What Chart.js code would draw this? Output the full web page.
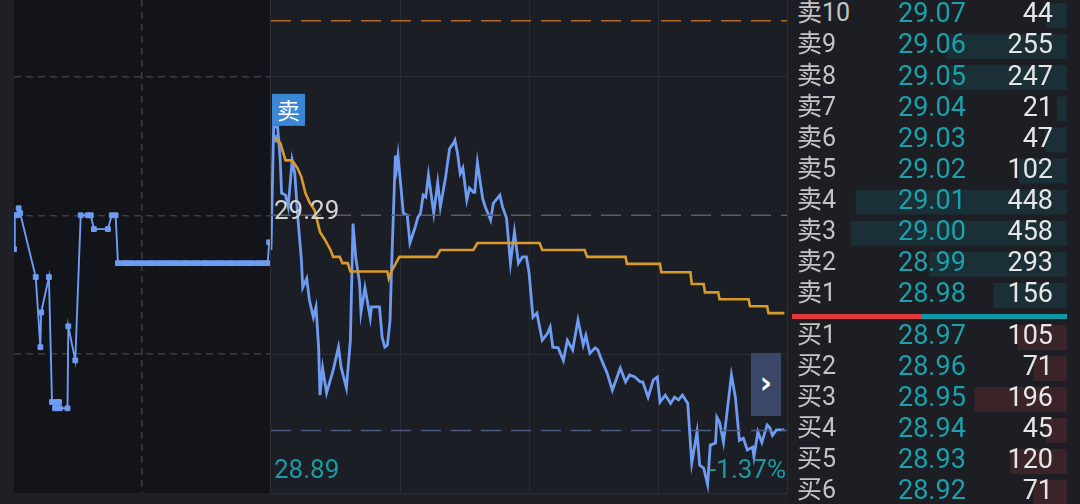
<!DOCTYPE html>
<html><head><meta charset="utf-8">
<script src="https://cdn.jsdelivr.net/npm/chart.js@4/dist/chart.umd.min.js"></script>
<style>
html,body{margin:0;padding:0;background:#1e2025;width:1080px;height:504px;overflow:hidden;position:relative;font-family:Roboto,"Noto Sans CJK SC",sans-serif;}
#pre{position:absolute;left:14px;top:0;width:256px;height:493px;background:#121419;border-right:1px solid #2c2f37;}
#main{position:absolute;left:271px;top:0;width:516px;height:493px;background:#1c1e25;border-right:1px solid #2b2e36;border-bottom:1px solid #2b2e36;}
#book{position:absolute;left:789px;top:0;width:291px;height:504px;background:#1c1e23;}
canvas{display:block;position:absolute;}
.lab{position:absolute;left:797px;height:30px;line-height:30px;font-size:25px;color:#c4c4c4;white-space:nowrap;}
.prc{position:absolute;left:898px;height:30px;line-height:30px;font-size:27px;color:#1aa1ab;white-space:nowrap;}
.qty{position:absolute;right:27px;height:30px;line-height:30px;font-size:27px;color:#e6e6e6;text-align:right;white-space:nowrap;}
#btn{position:absolute;left:751px;top:353px;width:30px;height:63px;background:#3a4767;color:#fff;font:bold 30px "DejaVu Sans",sans-serif;line-height:60px;text-align:center;}
</style></head>
<body>
<div id="pre"><canvas id="cPre" width="256" height="493"></canvas></div>
<div id="main"><canvas id="cMain" width="516" height="493"></canvas></div>
<div id="book"></div>
<canvas id="cAsk" width="216" height="311" style="left:851px;top:0px"></canvas>
<canvas id="cBid" width="216" height="186" style="left:851px;top:322px"></canvas>
<canvas id="cPow" width="275" height="5" style="left:792px;top:314px"></canvas>
<div id="btn">›</div>
<script>
// ---------- data ----------
const prevClose = 29.29;
const lastPrice = 28.98;
const costPrice = 29.57;
const priceMin = 28.89;
const priceMax = 29.60;
const priceGridPre = [29.09, 29.29, 29.49];
const priceGridMain = [29.09, 29.49];
const preGridTimes = [165];
const mainGridTimes = [97.5, 195, 292.5];

// pre-market trades (minutes from pre-market open)
const preTimes = [0,1,4,6,8,28,34,35,45,49,53,55,58,59,69,70,79,86,95,99,103,121,126,131,134,
  141,147,153,160,166,173,179,186,192,199,205,211,218,224,231,237,244,250,257,263,269,276,282,289,295,302,308,315,321,327,329];
const prePrices = [29.241,29.290,29.290,29.300,29.293,29.201,29.100,29.150,29.201,29.021,29.012,29.021,29.021,29.012,29.012,29.130,29.081,29.290,29.290,29.290,29.270,29.270,29.290,29.290,29.221,
  29.221,29.221,29.221,29.221,29.221,29.221,29.221,29.221,29.221,29.221,29.221,29.221,29.221,29.221,29.221,29.221,29.221,29.221,29.221,29.221,29.221,29.221,29.221,29.221,29.221,29.221,29.221,29.221,29.221,29.221,29.251];

// regular session price (minutes from open)
const rtTimes = [0,2,5,7,8,11,13,16,18,20,23,24,27,29,32,34,36,37,39,42,47,51,53,57,60,62,64,67,68,71,75,76,79,82,84,86,88,90,91,94,95,96,
  100,103,105,109,111,113,115,117,119,122,123,126,128,132,134,135,138,139,141,143,145,148,150,153,154,156,160,162,166,168,173,175,178,181,184,187,190,193,195,198,
  201,205,209,211,213,217,221,224,228,232,236,238,241,245,247,250,254,258,264,268,271,275,279,281,285,289,292,294,298,
  302,305,308,311,315,318,322,324,327,330,332,336,337,339,342,348,351,354,357,360,364,365,368,371,375,377,379,382,388];
const rtPrices = [29.240,29.417,29.417,29.369,29.322,29.319,29.302,29.369,29.350,29.293,29.225,29.186,29.199,29.168,29.143,29.158,29.100,29.031,29.070,29.034,29.067,29.100,29.071,29.041,29.110,29.278,29.230,29.192,29.150,29.186,29.142,29.158,29.158,29.158,29.114,29.100,29.103,29.139,29.207,29.376,29.359,29.376,
  29.293,29.290,29.250,29.273,29.287,29.293,29.319,29.316,29.348,29.307,29.293,29.337,29.302,29.345,29.373,29.386,29.394,29.398,29.379,29.350,29.358,29.312,29.329,29.323,29.323,29.366,29.314,29.302,29.283,29.307,29.319,29.302,29.286,29.221,29.266,29.221,29.230,29.230,29.208,29.143,
  29.149,29.110,29.120,29.129,29.100,29.099,29.081,29.110,29.096,29.139,29.103,29.117,29.091,29.099,29.096,29.081,29.063,29.038,29.070,29.050,29.060,29.057,29.050,29.050,29.028,29.053,29.057,29.021,29.031,
  29.019,29.028,29.024,29.031,29.019,28.933,28.978,28.930,28.926,28.902,28.959,28.962,28.999,28.992,28.963,29.060,29.028,28.966,28.969,28.952,28.956,28.942,28.978,28.963,28.988,28.984,28.973,28.981,28.981];

// average price
const avgTimes = [3,7,11,16,20,23,26,29,33,37,41,45,47,52,54,58,60,88,89,91,97,125,128,153,156,203,205,237,239,268,269,294,295,317,318,327,328,338,339,361,362,375,376,388];
const avgPrices = [29.402,29.394,29.369,29.369,29.358,29.345,29.322,29.309,29.297,29.266,29.254,29.240,29.230,29.230,29.221,29.221,29.209,29.209,29.199,29.209,29.230,29.230,29.240,29.240,29.250,29.250,29.240,29.240,29.230,29.230,29.220,29.220,29.208,29.208,29.191,29.191,29.179,29.179,29.169,29.169,29.159,29.159,29.149,29.149];

// sell trade marker
const sellTimes = [4];
const sellPrices = [29.40];

// order book
const askLabels = ['卖10','卖9','卖8','卖7','卖6','卖5','卖4','卖3','卖2','卖1'];
const askPrices = ['29.07','29.06','29.05','29.04','29.03','29.02','29.01','29.00','28.99','28.98'];
const askVols = [44,255,247,21,47,102,448,458,293,156];
const bidLabels = ['买1','买2','买3','买4','买5','买6'];
const bidPrices = ['28.97','28.96','28.95','28.94','28.93','28.92'];
const bidVols = [105,71,196,45,120,71];
const powerSplit = [47, 53];

// ---------- charts ----------
const toXY = (xs, ys) => xs.map((x, i) => ({x: x, y: ys[i]}));
const baseOpts = {responsive:false, animation:false, devicePixelRatio:1, layout:{padding:0, autoPadding:false},
  plugins:{legend:{display:false}, tooltip:{enabled:false}}};

new Chart(document.getElementById('cPre'), {
  type:'line',
  data:{datasets:[{data: toXY(preTimes, prePrices), borderColor:'#6e9cf2', borderWidth:1.9,
    pointStyle:'rect', pointRadius:3.4, pointBackgroundColor:'#6e9cf2', pointBorderColor:'#6e9cf2', pointBorderWidth:1, tension:0}]},
  options:Object.assign({}, baseOpts, {scales:{
    x:{type:'linear', min:0, max:330, ticks:{display:false}, grid:{color:'#3a3d45', drawTicks:false, lineWidth:1.5}, border:{display:false, dash:[7,5]},
       afterBuildTicks: s => { s.ticks = preGridTimes.map(v => ({value:v})); }},
    y:{min:priceMin, max:priceMax, ticks:{display:false}, grid:{color:'#3a3d45', drawTicks:false, lineWidth:1.5}, border:{display:false, dash:[7,5]},
       afterBuildTicks: s => { s.ticks = priceGridPre.map(v => ({value:v})); }}
  }})
});

const labelPlugin = {
  id:'labels',
  afterDatasetsDraw(chart) {
    const ctx = chart.ctx, a = chart.chartArea, xs = chart.scales.x, ys = chart.scales.y;
    ctx.save();
    ctx.textBaseline = 'middle';
    ctx.font = '26px Roboto';
    ctx.textAlign = 'left';
    ctx.fillStyle = '#d4d4d4';
    ctx.fillText(prevClose.toFixed(2), a.left + 3, ys.getPixelForValue(prevClose) - 3);
    ctx.fillStyle = '#1b9aa3';
    ctx.fillText(priceMin.toFixed(2), a.left + 3, a.bottom - 22);
    ctx.textAlign = 'right';
    ctx.fillText(((priceMin - prevClose) / prevClose * 100).toFixed(2) + '%', a.right - 1, a.bottom - 22);
    // sell marker tag
    const px = xs.getPixelForValue(sellTimes[0]), py = ys.getPixelForValue(sellPrices[0]);
    const bx = Math.max(a.left + 1, px - 5);
    ctx.fillStyle = '#3a87d7';
    ctx.fillRect(bx, py - 45, 33, 32);
    ctx.fillStyle = '#ffffff';
    ctx.font = '23px "Noto Sans CJK SC"';
    ctx.textAlign = 'center';
    ctx.fillText('卖', bx + 16.5, py - 29);
    ctx.restore();
  }
};

const refLine = (v, color) => ({data: toXY([0, 390], [v, v]), borderColor: color, borderWidth: 1.5, borderDash: [20, 10], pointRadius: 0});

new Chart(document.getElementById('cMain'), {
  type:'line',
  data:{datasets:[
    refLine(costPrice, '#b06a2c'),
    refLine(prevClose, '#5a5c63'),
    refLine(lastPrice, '#4d5b82'),
    {data: toXY(avgTimes, avgPrices), borderColor:'#d89a2b', borderWidth:2.6, pointRadius:0, tension:0},
    {data: toXY(rtTimes, rtPrices), borderColor:'#6e9cf2', borderWidth:2.8, pointRadius:0, tension:0},
    {data: toXY(sellTimes, sellPrices), showLine:false, pointRadius:4, pointBackgroundColor:'#4d93e6', pointBorderWidth:0}
  ]},
  options:Object.assign({}, baseOpts, {scales:{
    x:{type:'linear', min:0, max:390, ticks:{display:false}, grid:{color:'#2a2c34', drawTicks:false}, border:{display:false},
       afterBuildTicks: s => { s.ticks = mainGridTimes.map(v => ({value:v})); }},
    y:{min:priceMin, max:priceMax, ticks:{display:false}, grid:{color:'#2a2c34', drawTicks:false}, border:{display:false},
       afterBuildTicks: s => { s.ticks = priceGridMain.map(v => ({value:v})); }}
  }}),
  plugins:[labelPlugin]
});

const maxVol = Math.max(...askVols, ...bidVols);
function bookChart(id, labels, vols, color) {
  new Chart(document.getElementById(id), {
    type:'bar',
    data:{labels: labels, datasets:[{data: vols, backgroundColor: color, borderWidth:0, barPercentage:1, categoryPercentage:0.8}]},
    options:Object.assign({}, baseOpts, {indexAxis:'y', scales:{
      x:{display:false, reverse:true, min:0, max:maxVol},
      y:{display:false}
    }})
  });
}
bookChart('cAsk', askLabels, askVols, '#1b2f36');
bookChart('cBid', bidLabels, bidVols, '#3a2329');

new Chart(document.getElementById('cPow'), {
  type:'bar',
  data:{labels:[''], datasets:[
    {data:[powerSplit[0]], backgroundColor:'#e03a3e', borderWidth:0, barPercentage:1, categoryPercentage:1},
    {data:[powerSplit[1]], backgroundColor:'#0f97a6', borderWidth:0, barPercentage:1, categoryPercentage:1}
  ]},
  options:Object.assign({}, baseOpts, {indexAxis:'y', scales:{
    x:{display:false, stacked:true, min:0, max:powerSplit[0] + powerSplit[1]},
    y:{display:false, stacked:true}
  }})
});

// order book text
function addRow(cls, text, cy) {
  const d = document.createElement('div');
  d.className = cls; d.textContent = text; d.style.top = (cy - 15) + 'px';
  document.body.appendChild(d);
}
askLabels.forEach((l, i) => {
  const cy = 13.3 + 31.1 * i;
  addRow('lab', l, cy); addRow('prc', askPrices[i], cy); addRow('qty', String(askVols[i]), cy);
});
bidLabels.forEach((l, i) => {
  const cy = 335 + 31 * i;
  addRow('lab', l, cy); addRow('prc', bidPrices[i], cy); addRow('qty', String(bidVols[i]), cy);
});
</script>
</body></html>
